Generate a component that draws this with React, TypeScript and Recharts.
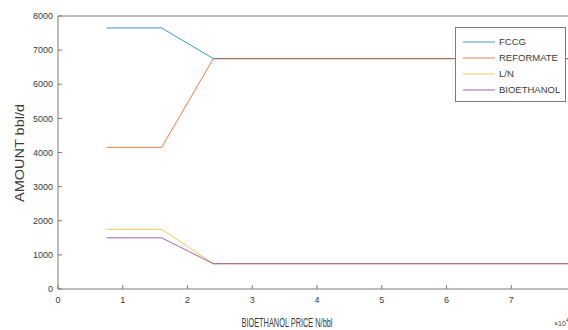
import React from 'react';
import { LineChart, Line, XAxis, YAxis, ReferenceLine, Legend, Label } from 'recharts';

const prices = [0.75, 1.6, 2.4, 8];
const fccg = [7650, 7650, 6750, 6750];
const reformate = [4150, 4150, 6750, 6750];
const ln = [1750, 1750, 740, 740];
const bioethanol = [1500, 1500, 740, 740];

const xTicks = [0, 1, 2, 3, 4, 5, 6, 7];
const yTicks = [0, 1000, 2000, 3000, 4000, 5000, 6000, 7000, 8000];

const seriesKeys = ['fccg', 'reformate', 'ln', 'bioethanol'];
const seriesNames = ['FCCG', 'REFORMATE', 'L/N', 'BIOETHANOL'];
const seriesColors = ['#0072BD', '#D95319', '#EDB120', '#7E2F8E'];

const data = prices.map((p, i) => ({
  x: p,
  fccg: fccg[i],
  reformate: reformate[i],
  ln: ln[i],
  bioethanol: bioethanol[i],
}));

const FONT = 'Liberation Sans, Arial, sans-serif';
const AXIS = '#7a7a7a';
const TEXT = '#3a3a3a';

const renderLegend = () => (
  <svg width={111} height={75} style={{ display: 'block' }}>
    <rect x={0.5} y={0.5} width={110} height={74} fill="#ffffff" stroke={AXIS} strokeWidth={1} />
    {seriesNames.map((name, i) => (
      <g key={name}>
        <line x1={8} x2={40} y1={15 + i * 16} y2={15 + i * 16} stroke={seriesColors[i]} strokeOpacity={0.75} strokeWidth={1} />
        <text x={44} y={15 + i * 16} dy="0.35em" fontSize={9.5} fill={TEXT} fontFamily={FONT}>
          {name}
        </text>
      </g>
    ))}
  </svg>
);

const YLabelContent = () => (
  <text
    transform="translate(20,153) rotate(-90)"
    textAnchor="middle"
    dy="0.35em"
    fontSize={12}
    fill={TEXT}
    fontFamily={FONT}
    textLength={98}
    lengthAdjust="spacingAndGlyphs"
  >
    AMOUNT bbl/d
  </text>
);

const XLabelContent = () => (
  <g>
    <text
      x={287}
      y={327}
      textAnchor="middle"
      fontSize={12}
      fill={TEXT}
      fontFamily={FONT}
      textLength={91}
      lengthAdjust="spacingAndGlyphs"
    >
      BIOETHANOL PRICE N/bbl
    </text>
    <text x={554} y={326} fontSize={7} fill={TEXT} fontFamily={FONT}>
      ×10
      <tspan dy={-4} fontSize={5}>4</tspan>
    </text>
  </g>
);

export default function App() {
  return (
    <div style={{ position: 'absolute', left: 0, top: 0, width: 568, height: 330, overflow: 'hidden', background: '#fff' }}>
      <LineChart width={600} height={330} data={data} margin={{ top: 16, right: 24, bottom: 0, left: 0 }}>
        <XAxis
          dataKey="x"
          type="number"
          domain={[0, 8]}
          ticks={xTicks}
          interval={0}
          height={41}
          stroke={AXIS}
          tickSize={-4}
          tickMargin={12}
          tick={{ fontSize: 9, fill: TEXT, fontFamily: FONT }}
          label={<Label content={XLabelContent} />}
        />
        <YAxis
          type="number"
          domain={[0, 8000]}
          ticks={yTicks}
          interval={0}
          width={58}
          stroke={AXIS}
          tickSize={-4}
          tickMargin={9}
          tick={{ fontSize: 9, fill: TEXT, fontFamily: FONT }}
          label={<Label content={YLabelContent} />}
        />
        <ReferenceLine y={8000} stroke={AXIS} strokeWidth={1} />
        <ReferenceLine x={8} stroke={AXIS} strokeWidth={1} />
        {seriesKeys.map((k, i) => (
          <Line
            key={k}
            dataKey={k}
            name={seriesNames[i]}
            stroke={seriesColors[i]}
            strokeOpacity={0.75}
            strokeWidth={1}
            dot={false}
            activeDot={false}
            isAnimationActive={false}
          />
        ))}
        <Legend
          layout="horizontal"
          verticalAlign="middle"
          align="center"
          content={renderLegend}
          wrapperStyle={{ position: 'absolute', left: 455, top: 27, width: 111, height: 75 }}
        />
      </LineChart>
    </div>
  );
}
